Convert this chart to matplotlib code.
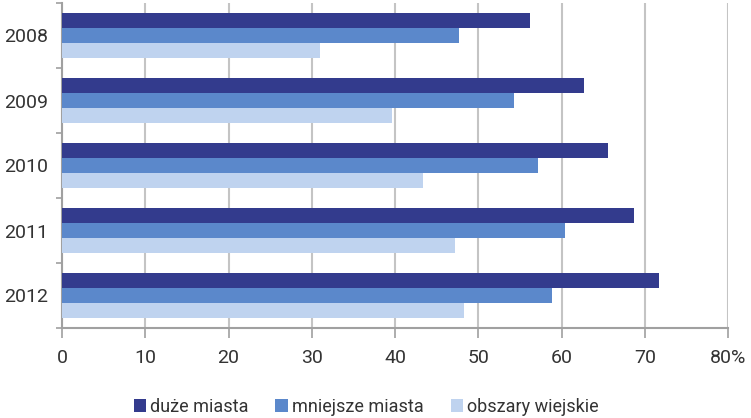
import matplotlib
matplotlib.use('Agg')
import matplotlib.pyplot as plt
import numpy as np
from matplotlib.patches import Patch

# dane
years = ['2008', '2009', '2010', '2011', '2012']
duze = [56.2, 62.7, 65.6, 68.7, 71.7]
mniejsze = [47.7, 54.3, 57.2, 60.4, 58.9]
wiejskie = [31.0, 39.6, 43.4, 47.2, 48.3]
series_names = ['duże miasta', 'mniejsze miasta', 'obszary wiejskie']
xticks = [0, 10, 20, 30, 40, 50, 60, 70, 80]
xtick_labels = ['0', '10', '20', '30', '40', '50', '60', '70', '80%']

colors = ['#333b8d', '#5b88cb', '#bfd3ef']

plt.rcParams['font.family'] = ['Roboto', 'DejaVu Sans']

fig = plt.figure(figsize=(7.51, 4.18), dpi=100)
ax = fig.add_axes([62 / 751, 1 - 328 / 418, 666 / 751, 325 / 418])

y = np.arange(len(years))
h = 0.226
for k, vals in enumerate([duze, mniejsze, wiejskie]):
    ax.barh(y + (k - 1) * h, vals, height=h, color=colors[k], zorder=3)

ax.set_xlim(0, 80)
ax.set_ylim(len(years) - 0.5, -0.5)

# siatka
ax.set_xticks(xticks)
ax.set_xticklabels(xtick_labels)
ax.grid(axis='x', color='#c4c4c4', linewidth=1.5, zorder=0)

ax.set_yticks(y)
ax.set_yticklabels(years)
ax.set_yticks(np.arange(-0.5, len(years) + 0.5, 1), minor=True)
ax.tick_params(axis='y', which='major', length=0, pad=10, labelsize=14, labelcolor='#333333')
ax.tick_params(axis='y', which='minor', length=4, width=1.2, color='#a0a0a0')
ax.tick_params(axis='x', length=7, width=1.2, color='#a0a0a0', pad=8, labelsize=14,
               labelcolor='#333333')

for s in ['top', 'right']:
    ax.spines[s].set_visible(False)
for s in ['left', 'bottom']:
    ax.spines[s].set_color('#a0a0a0')
    ax.spines[s].set_linewidth(1.5)

handles = [Patch(facecolor=c, label=n) for c, n in zip(colors, series_names)]
fig.legend(handles=handles, loc='center', bbox_to_anchor=(366 / 751, 1 - 407 / 418),
           ncol=3, frameon=False, fontsize=13, handlelength=0.7, handleheight=0.7,
           handletextpad=0.2, columnspacing=1.5, labelcolor='#333333')

plt.savefig('out.png', dpi=100)
